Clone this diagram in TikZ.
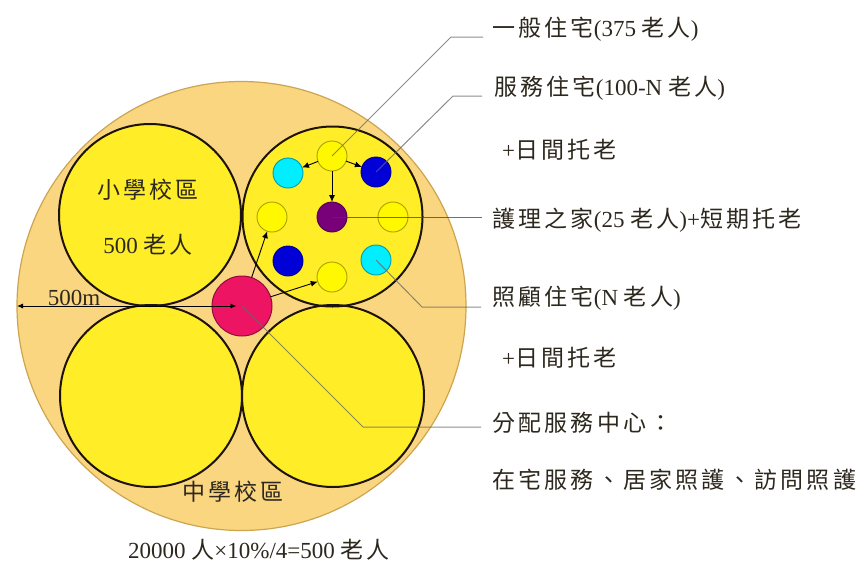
\documentclass[tikz,border=0pt]{standalone}
\usepackage{fontspec}
\setmainfont{Liberation Serif}
\newfontfamily\cjkfont[LetterSpace=14]{Noto Sans CJK TC}
\newcommand\zh[1]{{\cjkfont #1}}
\newcommand\lblsize{\fontsize{23}{27}\selectfont}
\usetikzlibrary{arrows.meta}
\definecolor{outerfill}{RGB}{250,214,128}
\definecolor{outerline}{RGB}{205,165,80}
\definecolor{zone}{RGB}{255,237,40}
\definecolor{dyellow}{RGB}{255,248,0}
\definecolor{dcyan}{RGB}{0,238,255}
\definecolor{dblue}{RGB}{0,0,215}
\definecolor{dpurple}{RGB}{120,0,120}
\definecolor{dred}{RGB}{238,20,100}
\definecolor{txt}{RGB}{45,40,30}
\tikzset{
  bigc/.style={circle, inner sep=0pt, outer sep=0pt, minimum size=182pt, fill=zone},
  zoneline/.style={line width=2pt, draw=black!85!brown},
  dotc/.style={circle, inner sep=0pt, outer sep=0pt, minimum size=30pt, line width=0.9pt, fill=#1, draw=#1!65!black},
  leader/.style={draw=black!60, line width=1pt, opacity=0.75},
  flow/.style={draw=black, line width=0.9pt, -{Latex[length=7pt,width=6pt]}},
  lbl/.style={anchor=west, font=\lblsize, text=txt, inner sep=0pt},
  ctr/.style={font=\lblsize, text=txt, inner sep=0pt}
}
\begin{document}
\begin{tikzpicture}[x=1pt,y=-1pt]
\useasboundingbox (0,0) rectangle (866,563);
% outer zone
\node[circle, inner sep=0pt, outer sep=0pt, minimum size=449pt, fill=outerfill, draw=outerline, line width=1.2pt] (outer) at (241.5,306) {};
% four school circles
\node[bigc] (tl) at (150,215) {};
\node[bigc] (tr) at (332.5,216.5) {};
\node[bigc] (bl) at (151,396) {};
\node[bigc] (br) at (333,396) {};
\draw[zoneline] (tl.center) circle[radius=91pt];
\draw[zoneline] (tr.center) circle[radius=90pt];
\draw[zoneline] (bl.center) circle[radius=91pt];
\draw[zoneline] (br.center) circle[radius=91pt];
% small circles
\node[dotc=dyellow] (ytop) at (332,156) {};
\node[dotc=dcyan] (cyanA) at (288,173) {};
\node[dotc=dblue] (blueA) at (376,172) {};
\node[dotc=dyellow] (yleft) at (272,217) {};
\node[dotc=dpurple] (purple) at (332,217) {};
\node[dotc=dyellow] (yright) at (393,217) {};
\node[dotc=dblue] (blueB) at (288,261) {};
\node[dotc=dcyan] (cyanB) at (376,260) {};
\node[dotc=dyellow] (ybot) at (332,277) {};
% service centre
\node[circle, inner sep=0pt, outer sep=0pt, minimum size=60pt, fill=dred, draw=dred!60!black, line width=1pt] (red) at (242,306) {};
% flows
\draw[flow] (ytop) -- (cyanA);
\draw[flow] (ytop) -- (blueA);
\draw[flow] (ytop) -- (purple);
\draw[flow] (red) -- (yleft);
\draw[flow] (red) -- (ybot);
% radius arrow
\draw[line width=0.9pt, {Latex[length=6pt,width=5pt]}-{Latex[length=6pt,width=5pt]}] (outer.west) -- ([xshift=-5pt]outer.center);
\node[font=\lblsize, text=txt, inner sep=0pt, anchor=base] (r500) at (74,305) {500m};
% leader lines
\coordinate (b1) at (451,37);  \coordinate (e1) at (483,37);
\coordinate (b2) at (453,96);  \coordinate (e2) at (482,96);
\coordinate (e4) at (482,217);
\coordinate (b5) at (422,307); \coordinate (e5) at (481,307);
\coordinate (b7) at (363,427); \coordinate (e7) at (481,427);
\draw[leader] (ytop.center) -- (b1) -- (e1);
\draw[leader] (blueA.center) -- (b2) -- (e2);
\draw[leader, draw=black!75] (purple.center) -- (e4);
\draw[leader] (cyanB.center) -- (b5) -- (e5);
\draw[leader] (red.center) -- (b7) -- (e7);
% labels
\node[lbl] (t1) at (492,29) {\zh{一般住宅}(375 \zh{老人})};
\node[lbl] (t2) at (494,88) {\zh{服務住宅}(100-N \zh{老人})};
\node[lbl] (t3) at (502,150) {+\zh{日間托老}};
\node[lbl] (t4) at (492,220) {\zh{護理之家}(25 \zh{老人})+\zh{短期托老}};
\node[lbl] (t5) at (492,298) {\zh{照顧住宅}(N \zh{老人})};
\node[lbl] (t6) at (502,358) {+\zh{日間托老}};
\node[lbl] (t7) at (492,423) {\zh{分配服務中心：}};
\node[lbl] (t8) at (492,480) {\zh{在宅服務、居家照護、訪問照護}};
\node[ctr] (t9) at (259,550) {20000 \zh{人}×10\%/4=500 \zh{老人}};
\node[ctr] (s1) at (148,190) {\zh{小學校區}};
\node[ctr] (s2) at (148,245) {500 \zh{老人}};
\node[ctr] (s3) at (233,492) {\zh{中學校區}};
\end{tikzpicture}
\end{document}
